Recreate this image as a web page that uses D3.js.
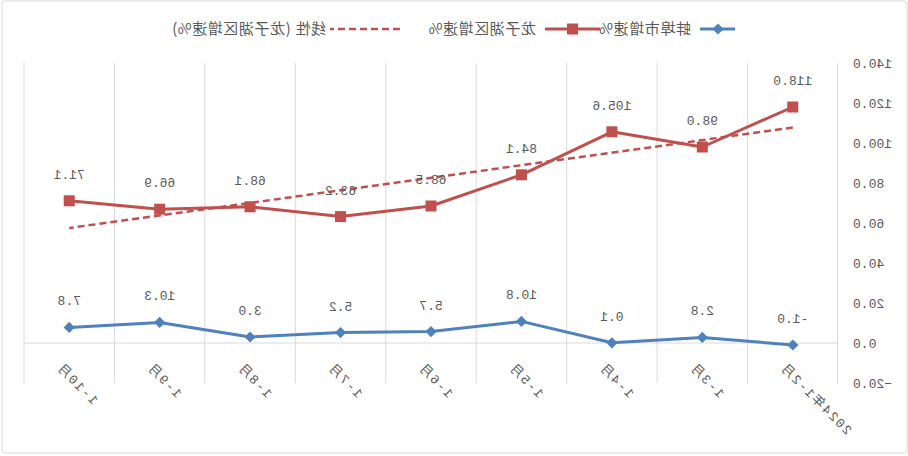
<!DOCTYPE html>
<html>
<head>
<meta charset="utf-8">
<script src="https://cdn.jsdelivr.net/npm/d3@7"></script>
<style>
  html, body { margin: 0; padding: 0; background: #fff; }
  svg { display: block; }
</style>
</head>
<body>
<div id="chart"></div>
<script>
// categories, left to right in the unmirrored chart
const categories = ['2024年1-2月', '1-3月', '1-4月', '1-5月', '1-6月', '1-7月', '1-8月', '1-9月', '1-10月'];
// 蚌埠市增速%
const bengbu = [-1.0, 2.8, 0.1, 10.8, 5.7, 5.2, 3.0, 10.3, 7.8];
// 龙子湖区增速%
const longzihu = [118.0, 98.0, 105.6, 84.1, 68.5, 63.2, 68.1, 66.9, 71.1];
const yTicks = [-20, 0, 20, 40, 60, 80, 100, 120, 140];
const legendNames = ['蚌埠市增速%', '龙子湖区增速%', '线性 (龙子湖区增速%)'];

const W = 908, H = 456;
const BLUE = '#4f81bd', RED = '#c0504d', GRID = '#d9d9d9', TXT = '#595959';
const NUM_FONT = '"Liberation Mono", "Noto Sans CJK SC", monospace';

const svg = d3.select('#chart').append('svg')
  .attr('width', W).attr('height', H);

// the reference is a mirror image, so draw normally and flip
const g = svg.append('g').attr('transform', `translate(${W},0) scale(-1,1)`);

g.append('rect')
  .attr('x', 1).attr('y', 1).attr('width', W - 3).attr('height', H - 4)
  .attr('rx', 3).attr('fill', '#fff').attr('stroke', GRID);

const x = d3.scaleBand().domain(categories).range([70, 884]);
const y = d3.scaleLinear().domain([-20, 140]).range([383, 63]);
const cx = d => x(d) + x.bandwidth() / 2;

// vertical category gridlines
const bounds = categories.map(c => x(c)).concat([x.range()[1]]);
g.append('g').selectAll('line').data(bounds.slice(1)).enter().append('line')
  .attr('x1', d => d).attr('x2', d => d)
  .attr('y1', y(140)).attr('y2', y(-20))
  .attr('stroke', GRID).attr('stroke-width', 1);

// value axis
const yAxis = g.append('g').attr('transform', `translate(70,0)`)
  .call(d3.axisLeft(y).tickValues(yTicks).tickSize(0).tickPadding(15).tickFormat(d3.format('.1f')));
yAxis.select('.domain').attr('stroke', GRID);
yAxis.selectAll('text').attr('fill', TXT).attr('font-size', 13).attr('font-family', NUM_FONT);

// category axis line at zero
g.append('line')
  .attr('x1', 70).attr('x2', 884).attr('y1', y(0)).attr('y2', y(0))
  .attr('stroke', GRID);

// category labels
g.append('g').selectAll('text').data(categories).enter().append('text')
  .attr('transform', d => `translate(${cx(d) + 5},${y(-20) - 23}) rotate(-45)`)
  .attr('text-anchor', 'end')
  .attr('dy', '0.9em')
  .attr('fill', TXT).attr('font-size', 13)
  .attr('letter-spacing', 1.6)
  .attr('font-family', NUM_FONT)
  .text(d => d);

// linear trend of 龙子湖区
const n = longzihu.length;
const xs = d3.range(1, n + 1);
const mx = d3.mean(xs), my = d3.mean(longzihu);
const slope = d3.sum(xs, (v, i) => (v - mx) * (longzihu[i] - my)) / d3.sum(xs, v => (v - mx) ** 2);
const trend = xs.map(v => my + slope * (v - mx));

const line = d3.line().x((d, i) => cx(categories[i])).y(d => y(d));

g.append('path').datum(longzihu)
  .attr('d', line).attr('fill', 'none')
  .attr('stroke', RED).attr('stroke-width', 3).attr('stroke-linejoin', 'round');

g.append('path').datum([trend[0], trend[n - 1]])
  .attr('d', d3.line().x((d, i) => cx(categories[i * (n - 1)])).y(d => y(d)))
  .attr('fill', 'none').attr('stroke', RED).attr('stroke-width', 2.5)
  .attr('stroke-dasharray', '7,4');

g.append('path').datum(bengbu)
  .attr('d', line).attr('fill', 'none')
  .attr('stroke', BLUE).attr('stroke-width', 3).attr('stroke-linejoin', 'round');

// markers
g.append('g').selectAll('rect').data(longzihu).enter().append('rect')
  .attr('x', (d, i) => cx(categories[i]) - 5.5)
  .attr('y', d => y(d) - 5.5)
  .attr('width', 11).attr('height', 11).attr('fill', RED);

const diamond = d3.symbol().type(d3.symbolDiamond2).size(80);
g.append('g').selectAll('path').data(bengbu).enter().append('path')
  .attr('d', diamond)
  .attr('transform', (d, i) => `translate(${cx(categories[i])},${y(d)})`)
  .attr('fill', BLUE);

// data labels
function labels(vals) {
  g.append('g').selectAll('text').data(vals).enter().append('text')
    .attr('x', (d, i) => cx(categories[i]))
    .attr('y', d => y(d) - 22)
    .attr('text-anchor', 'middle')
    .attr('fill', TXT).attr('font-size', 13)
    .attr('font-family', NUM_FONT)
    .text(d => d.toFixed(1));
}
labels(longzihu);
labels(bengbu);

// legend
const lg = g.append('g').attr('transform', 'translate(0,29)');
lg.append('line').attr('x1', 173).attr('x2', 208).attr('stroke', BLUE).attr('stroke-width', 3);
lg.append('path').attr('d', diamond).attr('transform', 'translate(190,0)').attr('fill', BLUE);
lg.append('line').attr('x1', 308).attr('x2', 363).attr('stroke', RED).attr('stroke-width', 3);
lg.append('rect').attr('x', 330).attr('y', -5.5).attr('width', 11).attr('height', 11).attr('fill', RED);
lg.append('line').attr('x1', 508).attr('x2', 578).attr('stroke', RED).attr('stroke-width', 2.5)
  .attr('stroke-dasharray', '7,4');
const legendX = [217, 372, 582];
lg.selectAll('text.lbl').data(legendNames).enter().append('text')
  .attr('class', 'lbl')
  .attr('x', (d, i) => legendX[i]).attr('dy', '0.35em')
  .attr('fill', TXT).attr('font-size', 15)
  .attr('letter-spacing', 0.6)
  .attr('font-family', '"Noto Sans CJK SC", sans-serif')
  .text(d => d);
</script>
</body>
</html>
